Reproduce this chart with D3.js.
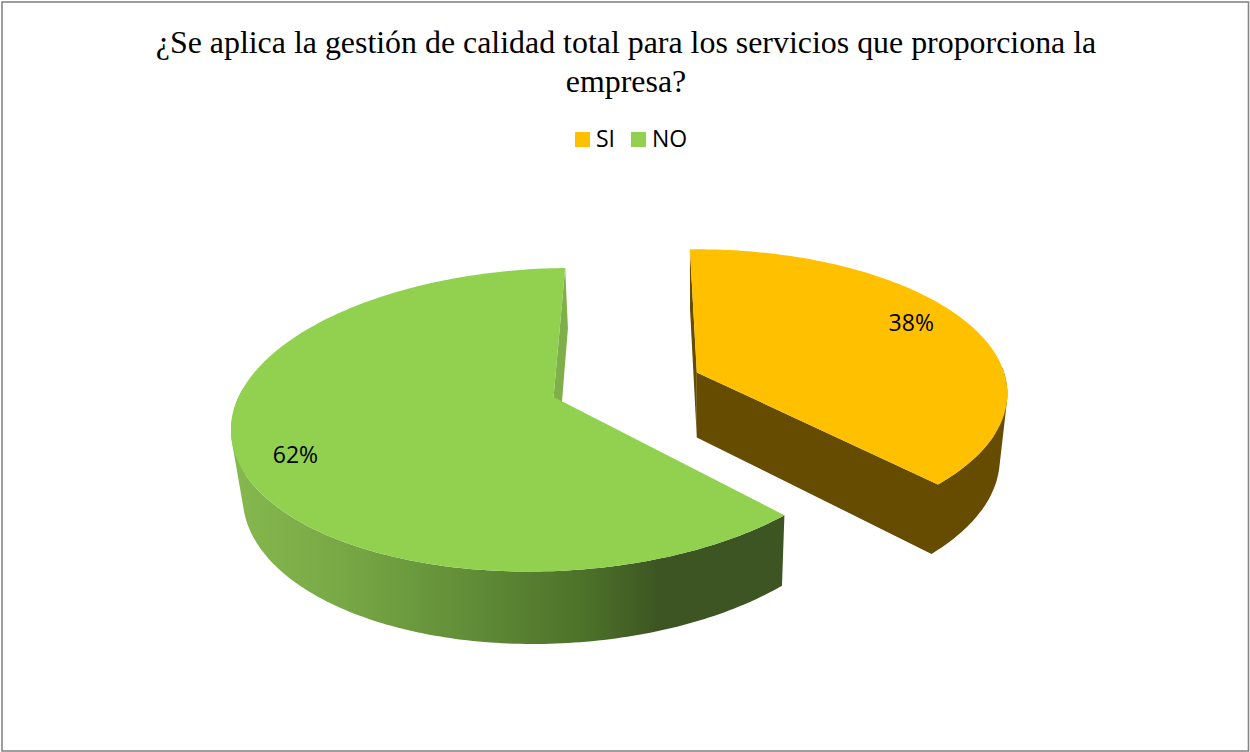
<!DOCTYPE html>
<html>
<head>
<meta charset="utf-8">
<script src="https://cdn.jsdelivr.net/npm/d3@7"></script>
<style>
  html, body { margin: 0; padding: 0; background: #fff; }
  svg { display: block; }
</style>
</head>
<body>
<div id="pie"></div>
<script>
// chart data
var titleLines = ["¿Se aplica la gestión de calidad total para los servicios que proporciona la", "empresa?"];
var categories = ["SI", "NO"];
var values = [38, 62];
var topColors = ["#FFC000", "#92D050"];
var wallColors = ["#664C00", "#7FAF48"];

var svgWidth = 1250;
var svgHeight = 752;

var svg = d3.select("#pie")
  .append("svg")
  .attr("width", svgWidth)
  .attr("height", svgHeight);

// frame
svg.append("rect")
  .attr("x", 2)
  .attr("y", 2)
  .attr("width", svgWidth - 3.5)
  .attr("height", svgHeight - 3)
  .attr("fill", "#fff")
  .attr("stroke", "#868686")
  .attr("stroke-width", 1.6);

// title
svg.append("g").selectAll("text")
  .data(titleLines)
  .enter()
  .append("text")
  .attr("x", 626)
  .attr("y", (d, i) => 53 + i * 39)
  .attr("text-anchor", "middle")
  .attr("font-family", "'Liberation Serif', serif")
  .attr("font-size", 31.9)
  .attr("fill", "#000")
  .text(d => d);

// legend
var legendX = [575, 631];
var legend = svg.append("g").selectAll("g")
  .data(categories)
  .enter()
  .append("g")
  .attr("transform", (d, i) => `translate(${legendX[i]}, 132)`);

legend.append("rect")
  .attr("width", 15)
  .attr("height", 15)
  .attr("fill", (d, i) => topColors[i]);

legend.append("text")
  .attr("x", 21)
  .attr("y", 15)
  .attr("font-family", "'Open Sans', sans-serif")
  .attr("font-size", 23)
  .attr("fill", "#000")
  .text(d => d);

// perspective camera: world x to the right, y going away, z up (top face is z = 0)
var camera = { vx: 695, vy: 397, R: 315, S: 148.4, T: 67.7, k: 0.15, m: 0.025 };

function project(x, y, z) {
  var w = 1 + camera.k * y - camera.m * z;
  return [camera.vx + camera.R * x / w, camera.vy - (camera.S * y + camera.T * z) / w];
}

// SI is pulled out of the pie, so each slice has its own centre
var centers = [[0.006, 0.17], [-0.449, 0]];

var pie = d3.pie()
  .sort(null)
  .startAngle(-0.025)
  .endAngle(-0.025 + 2 * Math.PI);

var slices = pie(values);
var line = d3.line();

function sampleAngles(slice) {
  var n = Math.ceil((slice.endAngle - slice.startAngle) * 60);
  return d3.range(n + 1).map(s => slice.startAngle + (slice.endAngle - slice.startAngle) * s / n);
}

function rimPoint(a, i, z) {
  return project(centers[i][0] + Math.sin(a), centers[i][1] + Math.cos(a), z);
}

function apex(i, z) {
  return project(centers[i][0], centers[i][1], z);
}

// one closed quad, always wound the same way so overlapping quads do not cancel out
function quad(p0, p1, p2, p3) {
  var q = [p0, p1, p2, p3];
  if (d3.polygonArea(q) < 0) q.reverse();
  return line(q) + "Z";
}

// gradient along the curved wall of the big slice
var defs = svg.append("defs");
var grad = defs.append("linearGradient")
  .attr("id", "wallGrad")
  .attr("gradientUnits", "userSpaceOnUse")
  .attr("x1", 233).attr("y1", 0)
  .attr("x2", 780).attr("y2", 0);

[[0, "#85B84E"], [0.2, "#78A845"], [0.45, "#5F8B36"], [0.65, "#4C7029"], [0.78, "#3C5522"], [1, "#3C5522"]]
  .forEach(function(s) {
    grad.append("stop").attr("offset", s[0]).attr("stop-color", s[1]);
  });

var pieGroup = svg.append("g");

slices.forEach(function(slice, i) {
  var g = pieGroup.append("g");
  var angles = sampleAngles(slice);
  var top = angles.map(a => rimPoint(a, i, 0));
  var last = angles.length - 1;

  // curved wall, front part only, swept as quads so the silhouette stays straight
  var wall = "";
  angles.forEach(function(a, s) {
    if (s === last || Math.cos(a) > 0.05) return;
    var b = angles[s + 1];
    wall += quad(rimPoint(a, i, 0), rimPoint(b, i, 0), rimPoint(b, i, -1), rimPoint(a, i, -1));
  });

  // SI ends on a cut face that looks at the viewer; on NO that side stays hidden
  if (i === 0) {
    wall += quad(apex(i, 0), top[last], rimPoint(angles[last], i, -1), apex(i, -1));
  }

  g.append("path")
    .attr("d", wall)
    .attr("fill", i === 1 ? "url(#wallGrad)" : wallColors[i]);

  // cut face near 12 o'clock: the start of SI and the end of NO
  var backAngle = i === 0 ? angles[0] : angles[last];
  g.append("path")
    .attr("d", line([apex(i, 0), rimPoint(backAngle, i, 0), rimPoint(backAngle, i, -1), apex(i, -1)]) + "Z")
    .attr("fill", wallColors[i]);

  // top face
  g.append("path")
    .attr("d", line([apex(i, 0)].concat(top)) + "Z")
    .attr("fill", topColors[i]);
});

// percentage labels
var total = d3.sum(values);
slices.forEach(function(slice, i) {
  var a = (slice.startAngle + slice.endAngle) / 2 - 0.06;
  var p = project(centers[i][0] + 0.83 * Math.sin(a), centers[i][1] + 0.83 * Math.cos(a), 0);
  svg.append("text")
    .attr("x", p[0] - 2)
    .attr("y", p[1] + 8)
    .attr("text-anchor", "middle")
    .attr("font-family", "'Open Sans', sans-serif")
    .attr("font-size", 23)
    .attr("fill", "#000")
    .text(Math.round(slice.value / total * 100) + "%");
});
</script>
</body>
</html>
